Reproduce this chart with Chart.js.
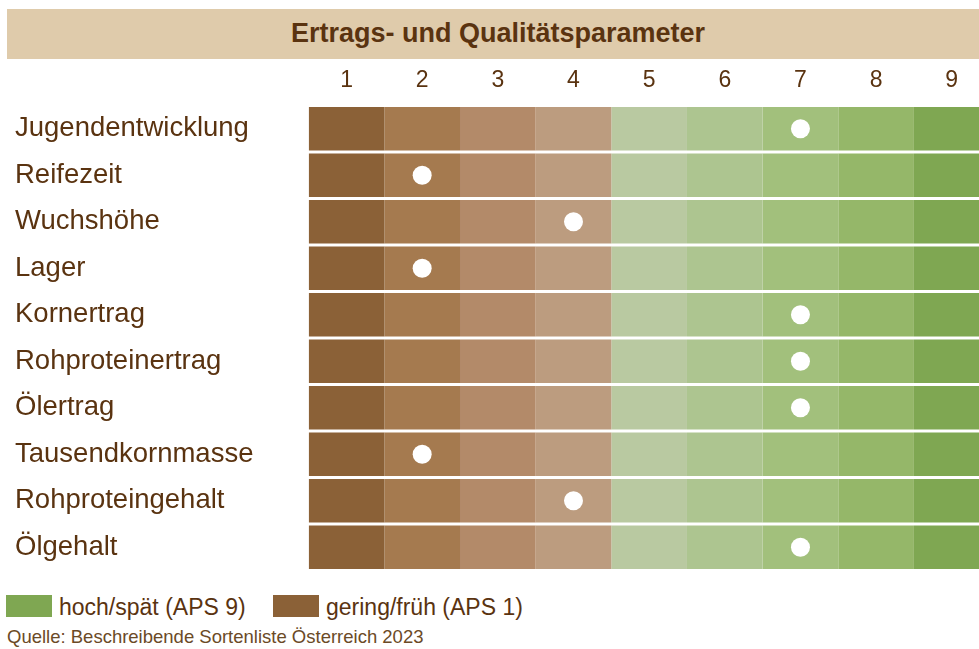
<!DOCTYPE html>
<html>
<head>
<meta charset="utf-8">
<script src="https://cdn.jsdelivr.net/npm/chart.js@4"></script>
<style>
  body { margin: 0; width: 979px; height: 649px; background: #fff; position: relative; overflow: hidden;
         font-family: "Liberation Sans", Arial, sans-serif; color: #5a3310; }
  #titleBand { position: absolute; left: 7px; top: 9px; width: 972px; height: 50px; background: #dfcbab; }
  #title { position: absolute; left: 10px; right: 0; top: 11px; text-align: center; font-weight: bold;
           font-size: 27px; line-height: 1; color: #5a3310; }
  #chartBox { position: absolute; left: 0; top: 60px; }
  .box { position: absolute; top: 595px; width: 46px; height: 22px; }
  .legText { position: absolute; top: 596px; font-size: 23px; line-height: 1; }
  #source { position: absolute; left: 7px; top: 628px; font-size: 18.5px; line-height: 1; color: #6b4a26; }
</style>
</head>
<body>
<div id="titleBand"><div id="title">Ertrags- und Qualitätsparameter</div></div>
<div id="chartBox"><canvas id="gridChart" width="979" height="532"></canvas></div>
<div class="box" style="left:6px;background:#7fa752"></div>
<div class="legText" style="left:59px">hoch/spät (APS 9)</div>
<div class="box" style="left:273px;background:#8b6137"></div>
<div class="legText" style="left:326px">gering/früh (APS 1)</div>
<div id="source">Quelle: Beschreibende Sortenliste Österreich 2023</div>
<script>
// Parameter rows and their APS score (1-9)
const rows = [
  "Jugendentwicklung", "Reifezeit", "Wuchshöhe", "Lager", "Kornertrag",
  "Rohproteinertrag", "Ölertrag", "Tausendkornmasse", "Rohproteingehalt", "Ölgehalt"
];
const scores = [7, 2, 4, 2, 7, 7, 7, 2, 4, 7];

// APS scale steps and the colour of each column
const steps = ["1", "2", "3", "4", "5", "6", "7", "8", "9"];
const stepColors = [
  "#8b6137", "#a57a4f", "#b38a69", "#bc9c7f",
  "#b9c9a1", "#adc590", "#a2c07c", "#95b769", "#7fa752"
];

const textColor = "#5a3310";

// one floating bar per column, spanning every row
const columnSets = steps.map((s, k) => ({
  type: "bar",
  label: "APS " + s,
  data: rows.map(() => [k, k + 1]),
  backgroundColor: stepColors[k],
  borderWidth: 0,
  grouped: false,
  barPercentage: 1,
  categoryPercentage: 0.935,
  order: 1
}));

const dots = {
  type: "scatter",
  label: "Sorte",
  data: rows.map((r, i) => ({ x: scores[i] - 0.5, y: r })),
  backgroundColor: "#ffffff",
  borderWidth: 0,
  pointRadius: 9.5,
  pointHoverRadius: 9.5,
  order: 0
};

new Chart(document.getElementById("gridChart"), {
  type: "bar",
  data: { labels: rows, datasets: [...columnSets, dots] },
  options: {
    indexAxis: "y",
    responsive: false,
    animation: false,
    layout: { autoPadding: false, padding: { left: 15, right: 0, top: 0, bottom: 21.5 } },
    plugins: { legend: { display: false }, tooltip: { enabled: false } },
    scales: {
      x: {
        type: "linear",
        position: "top",
        min: 0,
        max: 8.86,
        grid: { display: false, drawTicks: false },
        border: { display: false },
        afterBuildTicks: (axis) => { axis.ticks = steps.map((s, i) => ({ value: i + 0.5 })); },
        afterFit: (axis) => {
          axis.height = 45.5;
          axis.paddingLeft = 0;
          axis.paddingRight = 0;
        },
        ticks: {
          autoSkip: false,
          maxRotation: 0,
          padding: 11,
          color: textColor,
          font: { family: "'Liberation Sans', Arial, sans-serif", size: 23 },
          callback: (v, i) => steps[i]
        }
      },
      y: {
        type: "category",
        grid: { display: false, drawTicks: false },
        border: { display: false },
        afterFit: (axis) => { axis.width = 293.7; },
        ticks: {
          crossAlign: "far",
          padding: 0,
          color: textColor,
          font: { family: "'Liberation Sans', Arial, sans-serif", size: 27.5 }
        }
      }
    }
  }
});
</script>
</body>
</html>
